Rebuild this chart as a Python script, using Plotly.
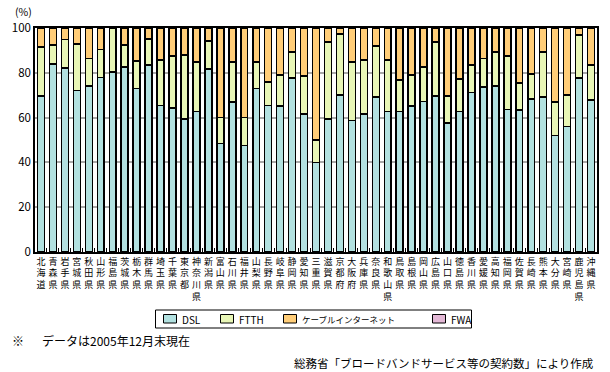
import plotly.graph_objects as go

prefectures = ["北海道", "青森県", "岩手県", "宮城県", "秋田県", "山形県", "福島県", "茨城県",
               "栃木県", "群馬県", "埼玉県", "千葉県", "東京都", "神奈川県", "新潟県", "富山県",
               "石川県", "福井県", "山梨県", "長野県", "岐阜県", "静岡県", "愛知県", "三重県",
               "滋賀県", "京都府", "大阪府", "兵庫県", "奈良県", "和歌山県", "鳥取県", "島根県",
               "岡山県", "広島県", "山口県", "徳島県", "香川県", "愛媛県", "高知県", "福岡県",
               "佐賀県", "長崎県", "熊本県", "大分県", "宮崎県", "鹿児島県", "沖縄県"]

dsl = [69.7, 83.9, 82.2, 72.2, 74.2, 77.8, 80.3, 82.5, 73.1, 83.4, 65.5, 64.2, 59.3, 62.8,
       81.6, 48.5, 66.9, 47.6, 73.1, 65.5, 65.1, 77.6, 61.5, 40.0, 59.3, 70.0, 58.8, 61.5,
       69.1, 62.8, 62.8, 65.1, 67.3, 69.7, 57.5, 62.8, 71.3, 73.7, 74.2, 63.7, 63.3, 68.2,
       69.1, 52.1, 56.1, 77.6, 67.8]
ftth = [21.8, 8.6, 12.6, 20.6, 12.1, 12.5, 19.7, 10.0, 12.1, 11.8, 20.3, 23.3, 28.6, 22.0,
        12.7, 11.6, 17.9, 12.5, 11.7, 10.3, 13.9, 11.7, 17.0, 9.9, 34.4, 27.3, 26.0, 24.2,
        22.8, 22.9, 13.9, 13.9, 15.2, 24.0, 12.2, 14.4, 12.1, 12.6, 15.1, 23.8, 12.1, 11.2,
        20.2, 14.8, 13.9, 19.3, 15.6]
cable = [8.5, 7.5, 5.2, 7.2, 13.7, 9.7, 0.0, 7.5, 14.8, 4.8, 14.2, 12.5, 12.1, 15.2,
         5.7, 39.9, 15.2, 39.9, 15.2, 24.2, 21.0, 10.7, 21.5, 50.1, 6.3, 2.7, 15.2, 14.3,
         8.1, 14.3, 23.3, 21.0, 17.5, 6.3, 30.3, 22.8, 16.6, 13.7, 10.7, 12.5, 24.6, 20.6,
         10.7, 33.1, 30.0, 3.1, 16.6]
fwa = [0.0] * 47

series_names = ["DSL", "FTTH", "ケーブルインターネット", "FWA"]
series_colors = ["#b2e1e0", "#e8f6b6", "#ffcd78", "#e3b8d6"]
y_ticks = [0, 20, 40, 60, 80, 100]

# vertical labels: one character per line
tick_text = ["<br>".join(list(p)) for p in prefectures]

font_family = "Noto Sans CJK JP, Noto Sans, sans-serif"

W, H = 610, 372
ML, MR, MT, MB = 35, 13, 28, 120
PLOT_W = W - ML - MR
PLOT_H = H - MT - MB


def px_x(px):
    return (px - ML) / PLOT_W


def px_y(py):
    return (H - MB - py) / PLOT_H


fig = go.Figure()
for name, vals, col in zip(series_names, [dsl, ftth, cable, fwa], series_colors):
    fig.add_trace(go.Bar(
        x=prefectures, y=vals, name=name, showlegend=False,
        marker=dict(color=col, line=dict(color="black", width=1.5)),
    ))

annotations = [
    dict(text="(%)", xref="paper", yref="paper", x=px_x(23), y=px_y(20.5),
         xanchor="center", yanchor="bottom", showarrow=False, font=dict(size=10.5)),
    dict(text="※", xref="paper", yref="paper", x=px_x(10), y=px_y(340.5),
         xanchor="left", yanchor="middle", showarrow=False, font=dict(size=12)),
    dict(text="データは2005年12月末現在", xref="paper", yref="paper",
         x=px_x(40), y=px_y(340.5), xanchor="left", yanchor="middle", showarrow=False,
         font=dict(size=12)),
    dict(text="総務省「ブロードバンドサービス等の契約数」により作成", xref="paper", yref="paper",
         x=px_x(596), y=px_y(363), xanchor="right", yanchor="middle", showarrow=False,
         font=dict(size=11.5)),
]

# custom legend (box, swatches, labels)
shapes = [dict(type="rect", xref="paper", yref="paper",
               x0=px_x(155.5), x1=px_x(471.5), y0=px_y(310), y1=px_y(328),
               line=dict(color="black", width=1), fillcolor="white", layer="above")]
legend_sw = [163.5, 220.5, 283.5, 432.5]
legend_sizes = [10, 10, 8.5, 10]
for name, col, sx, fs in zip(series_names, series_colors, legend_sw, legend_sizes):
    shapes.append(dict(type="rect", xref="paper", yref="paper",
                       x0=px_x(sx), x1=px_x(sx + 13), y0=px_y(314.5), y1=px_y(323),
                       line=dict(color="black", width=1), fillcolor=col, layer="above"))
    annotations.append(dict(text=name, xref="paper", yref="paper",
                            x=px_x(sx + 16), y=px_y(319), xanchor="left", yanchor="middle",
                            showarrow=False, font=dict(size=fs)))

fig.update_layout(
    width=W, height=H,
    barmode="stack", bargap=0.42,
    paper_bgcolor="white", plot_bgcolor="white",
    margin=dict(l=ML, r=MR, t=MT, b=MB, autoexpand=False),
    font=dict(family=font_family, size=11, color="black"),
    showlegend=False,
    annotations=annotations,
    shapes=shapes,
)

fig.update_xaxes(
    type="category", tickmode="array", tickvals=prefectures, ticktext=tick_text,
    tickangle=0, tickfont=dict(size=9, color="black"),
    tickson="boundaries", ticks="inside", ticklen=4, tickcolor="black", automargin=False,
    showline=True, linecolor="black", linewidth=1.5, mirror=True, showgrid=False,
)
fig.update_yaxes(
    range=[0, 100], tickvals=y_ticks, ticks="", showline=True, linecolor="black",
    linewidth=1.5, mirror=True, showgrid=True, gridcolor="#a8a8a8", gridwidth=1.5,
    tickfont=dict(size=11.5, color="black"), zeroline=False, automargin=False,
)

fig.write_html("out.html", post_script="document.body.style.margin='0';",
               config={"displayModeBar": False})
